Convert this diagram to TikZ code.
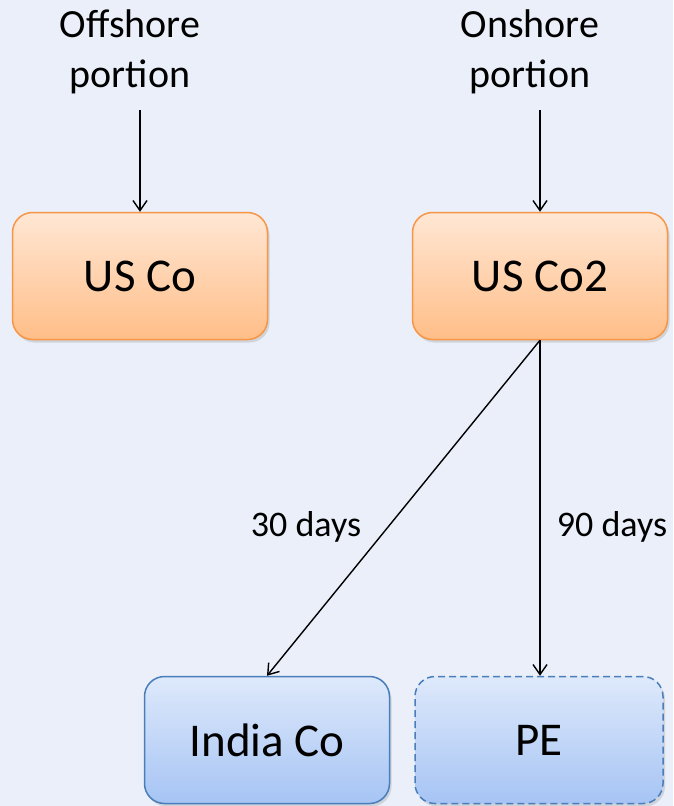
\documentclass[tikz,border=0pt]{standalone}
\usepackage{fontspec}
\setmainfont{Carlito}
\usetikzlibrary{arrows.meta,shadows}
\definecolor{bgc}{RGB}{234,239,249}
\definecolor{orTop}{RGB}{255,231,212}
\definecolor{orBot}{RGB}{255,190,136}
\definecolor{orLine}{RGB}{247,150,70}
\definecolor{blTop}{RGB}{222,233,251}
\definecolor{blBot}{RGB}{166,196,244}
\definecolor{blLine}{RGB}{74,126,187}
\tikzset{
  box/.style={rounded corners=20pt, minimum width=255pt, minimum height=127pt,
    line width=1.5pt, font=\fontsize{47}{56}\selectfont, inner sep=0pt,
    drop shadow={shadow xshift=2pt, shadow yshift=-3pt, opacity=0.25}},
  orbox/.style={box, draw=orLine, top color=orTop, bottom color=orBot},
  blbox/.style={box, draw=blLine, top color=blTop, bottom color=blBot},
  toptext/.style={align=center, font=\fontsize{40}{50}\selectfont, inner sep=0pt},
  daytext/.style={font=\fontsize{36}{44}\selectfont, inner sep=0pt},
  arr/.style={line width=1.4pt, -{Straight Barb[length=10pt,width=14pt,line width=1.4pt]}}
}
\begin{document}
\begin{tikzpicture}[x=1pt,y=-1pt]
\fill[bgc] (0,0) rectangle (673,806);
\useasboundingbox (0,0) rectangle (673,806);

\node[toptext] (offtxt) at (130,52) {Offshore\\portion};
\node[toptext] (ontxt) at (530,52) {Onshore\\portion};

\node[orbox] (usco) at (140,276) {US Co};
\node[orbox] (usco2) at (540,276) {US Co2};
\node[blbox, minimum width=245pt] (india) at (267,740) {India Co};
\node[blbox, minimum width=248pt, dash pattern=on 7pt off 4pt] (pe) at (539,740) {PE};

\coordinate (offstart) at (140,110);
\coordinate (onstart) at (540,110);

\draw[arr] (offstart) -- (usco.north);
\draw[arr] (onstart) -- (usco2.north);
\draw[arr] (usco2.south) -- (india.north);
\draw[arr] (usco2.south) -- (usco2.south |- pe.north);

\node[daytext] (d30) at (306,527) {30 days};
\node[daytext] (d90) at (612,527) {90 days};
\end{tikzpicture}
\end{document}
